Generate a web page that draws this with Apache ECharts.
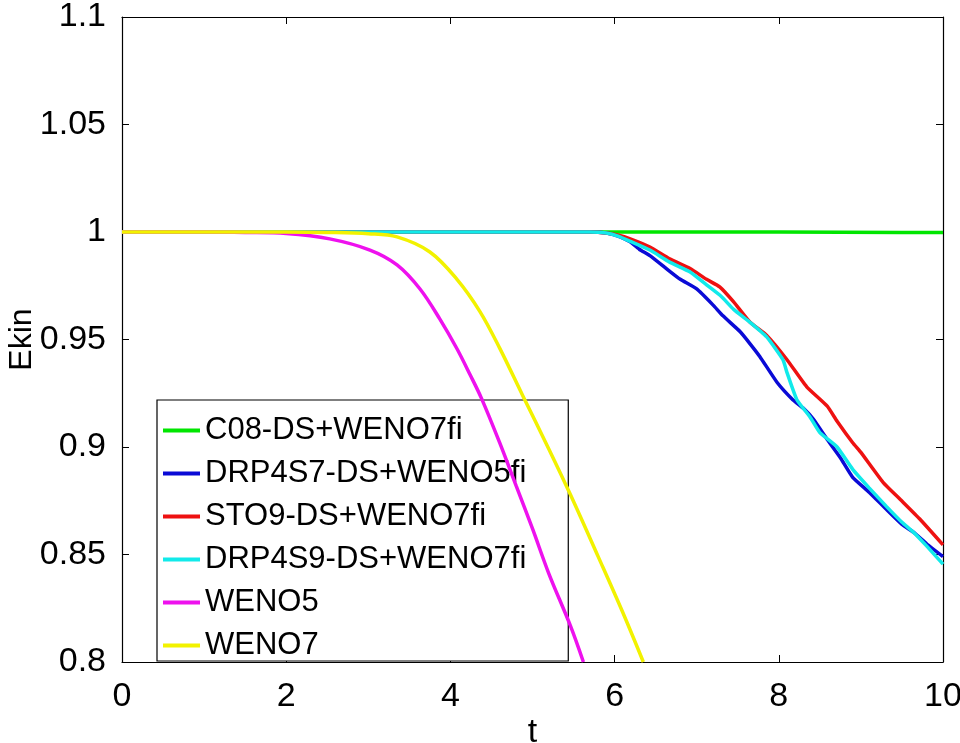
<!DOCTYPE html>
<html>
<head>
<meta charset="utf-8">
<script src="https://cdn.jsdelivr.net/npm/echarts@6/dist/echarts.min.js"></script>
<style>html,body{margin:0;padding:0;background:#fff}#c{width:960px;height:743px}</style>
</head>
<body>
<div id="c"></div>
<script>
// ---- data ----
const seriesNames = ['C08-DS+WENO7fi','DRP4S7-DS+WENO5fi','STO9-DS+WENO7fi','DRP4S9-DS+WENO7fi','WENO5','WENO7'];

const c08T = [0, 2, 4, 6, 8, 9.5, 10];
const c08E = [1, 1, 1, 1, 1, 0.9998, 0.9998];

const drp4s7T = [0, 2.5, 5, 5.7, 5.9, 6.05, 6.19, 6.3, 6.43, 6.63, 6.8, 7.0, 7.2, 7.32, 7.53, 7.65, 7.77, 7.98, 8.17, 8.3, 8.42, 8.59, 8.75, 8.9, 9.1, 9.31, 9.5, 9.64, 9.8, 10];
const drp4s7E = [1, 1, 1, 1, 0.9995, 0.998, 0.9954, 0.992, 0.989, 0.983, 0.978, 0.9735, 0.966, 0.961, 0.9536, 0.948, 0.942, 0.930, 0.922, 0.918, 0.913, 0.9035, 0.895, 0.8859, 0.879, 0.871, 0.864, 0.8604, 0.855, 0.849];

const sto9T = [0, 5, 5.7, 5.9, 6.05, 6.19, 6.43, 6.67, 6.92, 7.12, 7.28, 7.45, 7.65, 7.85, 8.1, 8.34, 8.59, 8.71, 8.9, 9.0, 9.27, 9.48, 9.72, 10];
const sto9E = [1, 1, 1, 0.9995, 0.9985, 0.9968, 0.993, 0.9875, 0.983, 0.978, 0.9745, 0.9675, 0.958, 0.952, 0.9406, 0.928, 0.919, 0.912, 0.902, 0.8975, 0.8836, 0.8756, 0.8664, 0.8545];

const drp4s9T = [0, 5, 5.7, 5.9, 6.05, 6.2, 6.43, 6.67, 6.92, 7.12, 7.3, 7.45, 7.65, 7.85, 8.05, 8.1, 8.22, 8.38, 8.5, 8.71, 8.9, 9.1, 9.31, 9.5, 9.64, 9.8, 10];
const drp4s9E = [1, 1, 1, 0.9995, 0.998, 0.9955, 0.9916, 0.986, 0.9814, 0.9754, 0.970, 0.964, 0.958, 0.9513, 0.9406, 0.9346, 0.922, 0.914, 0.9067, 0.900, 0.8896, 0.881, 0.8724, 0.865, 0.8604, 0.854, 0.8455];

const weno5T = [0, 1, 1.5, 2, 2.53, 3.02, 3.35, 3.63, 3.87, 4.08, 4.24, 4.38, 4.6, 4.8, 5.0, 5.2, 5.46, 5.62];
const weno5E = [1, 1, 0.9998, 0.9993, 0.9968, 0.9916, 0.9847, 0.9735, 0.9596, 0.9457, 0.9336, 0.9225, 0.902, 0.882, 0.862, 0.841, 0.817, 0.80];

const weno7T = [0, 1, 2, 2.5, 3, 3.35, 3.75, 4.08, 4.36, 4.6, 4.88, 5.2, 5.46, 5.8, 6.1, 6.35];
const weno7E = [1, 1, 1, 0.9998, 0.9992, 0.9977, 0.9907, 0.978, 0.963, 0.946, 0.924, 0.899, 0.878, 0.849, 0.823, 0.80];

const xTicks = [0, 2, 4, 6, 8, 10];
const yTicks = [0.8, 0.85, 0.9, 0.95, 1, 1.05, 1.1];

// ---- build ----
const colors = ['#00e600', '#0a0ad6', '#ee1111', '#11eaea', '#ee11ee', '#f2f200'];
const smoothing = [0, 0.15, 0.15, 0.15, 0.35, 0.35];
const pairs = (t, e) => t.map((v, i) => [v, e[i]]);
const allData = [pairs(c08T, c08E), pairs(drp4s7T, drp4s7E), pairs(sto9T, sto9E), pairs(drp4s9T, drp4s9E), pairs(weno5T, weno5E), pairs(weno7T, weno7E)];

const FONT = 'Liberation Sans, Arial, Helvetica, sans-serif';
const chart = echarts.init(document.getElementById('c'), null, {renderer: 'canvas'});

const boxAxisX = (pos, show) => ({
  type: 'value', position: pos, min: xTicks[0], max: xTicks[xTicks.length - 1], interval: xTicks[1] - xTicks[0],
  axisLine: {show: true, onZero: false, lineStyle: {color: '#000', width: 1.2}},
  axisTick: {show: true, inside: true, length: 7, lineStyle: {color: '#000', width: 1}},
  axisLabel: {show: show, color: '#000', fontSize: 34, fontFamily: FONT, margin: 18},
  splitLine: {show: false}
});
const boxAxisY = (pos, show) => ({
  type: 'value', position: pos, min: yTicks[0], max: yTicks[yTicks.length - 1], interval: 0.05,
  axisLine: {show: true, onZero: false, lineStyle: {color: '#000', width: 1.2}},
  axisTick: {show: true, inside: true, length: 7, lineStyle: {color: '#000', width: 1}},
  axisLabel: {show: show, color: '#000', fontSize: 34, fontFamily: FONT, margin: 16,
    formatter: v => String(parseFloat(v.toFixed(2)))},
  splitLine: {show: false}
});

const xMain = boxAxisX('bottom', true);
xMain.name = 't'; xMain.nameLocation = 'middle'; xMain.nameGap = 54; xMain.nameMoveOverlap = false;
xMain.nameTextStyle = {color: '#000', fontSize: 34, fontFamily: FONT};
const yMain = boxAxisY('left', true);
yMain.name = 'Ekin'; yMain.nameLocation = 'middle'; yMain.nameGap = 84; yMain.nameMoveOverlap = false;
yMain.nameTextStyle = {color: '#000', fontSize: 32, fontFamily: FONT};

chart.setOption({
  animation: false,
  backgroundColor: '#fff',
  grid: {left: 122, right: 17, top: 17, bottom: 81, containLabel: false, outerBoundsMode: 'none'},
  xAxis: [xMain, boxAxisX('top', false)],
  yAxis: [yMain, boxAxisY('right', false)],
  legend: {
    left: 157, top: 400,
    orient: 'vertical',
    data: seriesNames.map(n => ({name: n, icon: 'rect'})),
    itemWidth: 37, itemHeight: 4, itemGap: 12,
    padding: [15, 42, 0, 6],
    backgroundColor: '#fff',
    borderColor: '#000', borderWidth: 1.2,
    textStyle: {color: '#000', fontSize: 31, fontFamily: FONT},
    itemStyle: {borderWidth: 0}
  },
  series: seriesNames.map((n, i) => ({
    name: n, type: 'line', xAxisIndex: 0, yAxisIndex: 0,
    data: allData[i], showSymbol: false, symbol: 'none', smooth: smoothing[i],
    lineStyle: {color: colors[i], width: 3.5},
    itemStyle: {color: colors[i]},
    clip: true, z: 2 + i
  }))
});
</script>
</body>
</html>
